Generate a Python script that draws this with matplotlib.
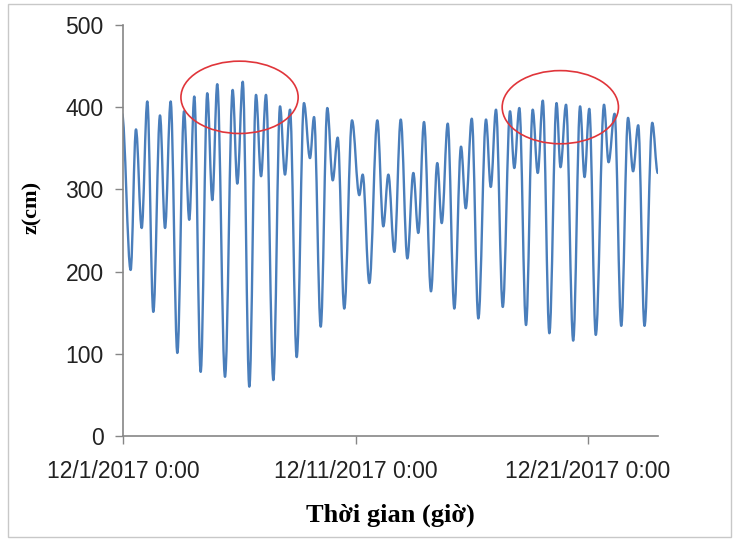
import matplotlib.pyplot as plt
from matplotlib.path import Path
from matplotlib.patches import PathPatch, Ellipse, Rectangle

# Tidal water level, extrema
# hours since 12/1/2017 0:00, first point is the high just before the window
hours = [-1.0, 7.9, 13.4, 19.3, 25.1, 31.3, 38.2, 43.4, 49.2, 56.1,
         63.0, 68.4, 73.6, 80.2, 87.0, 92.2, 97.3, 105.3, 113.2, 118.0,
         123.6, 130.4, 137.3, 142.5, 147.6, 155.2, 162.1, 167.2, 172.4, 179.3,
         186.8, 193.0, 197.2, 204.1, 210.9, 216.5, 221.6, 228.4, 236.4, 243.9,
         247.4, 254.3, 262.5, 268.7, 273.9, 280.1, 286.7, 293.5, 299.7, 304.8,
         310.7, 317.9, 324.4, 329.0, 335.2, 342.0, 348.9, 353.8, 360.0, 366.8,
         374.7, 379.6, 385.0, 392.0, 399.5, 403.9, 409.1, 416.0, 422.9, 428.1,
         433.3, 440.1, 447.5, 451.6, 457.3, 464.7, 471.8, 476.4, 481.3, 488.0,
         496.5, 501.2, 507.4, 514.3, 521.3, 526.5, 531.8, 538.3, 546.3, 552.0]
z_cm = [392, 202, 373, 253, 407, 151, 390, 253, 407, 101,
        395, 263, 413, 78, 417, 287, 428, 72, 421, 307,
        431, 60, 415, 316, 415, 68, 401, 318, 397, 96,
        405, 338, 388, 133, 399, 311, 363, 155, 384, 293,
        318, 186, 384, 255, 318, 224, 385, 216, 320, 247,
        382, 176, 332, 259, 380, 155, 352, 277, 386, 143,
        385, 303, 397, 157, 395, 326, 399, 135, 397, 320,
        408, 125, 405, 327, 403, 116, 401, 315, 398, 123,
        403, 333, 392, 134, 387, 322, 378, 134, 381, 320]

tick_hours = [0, 240, 480]
tick_labels = ["12/1/2017 0:00", "12/11/2017 0:00", "12/21/2017 0:00"]

# circled spring-tide groups (center hour, center z, width h, height cm)
circles = [(120.3, 412, 121, 88), (451.4, 400, 120, 89)]

fig = plt.figure(figsize=(7.4, 5.41), dpi=100)
ax = fig.add_axes([0.1662, 0.1941, 0.7227, 0.7597])

# smooth tide curve: cubic segments with flat tangents at each extremum
k = 0.36
verts = [(hours[0], z_cm[0])]
codes = [Path.MOVETO]
for i in range(1, len(hours)):
    dt = hours[i] - hours[i - 1]
    verts += [(hours[i - 1] + k * dt, z_cm[i - 1]),
              (hours[i] - k * dt, z_cm[i]),
              (hours[i], z_cm[i])]
    codes += [Path.CURVE4] * 3
ax.add_patch(PathPatch(Path(verts, codes), facecolor="none",
                       edgecolor="#4a7ebb", lw=1.7, capstyle="round",
                       joinstyle="round"))

for cx, cy, w, h in circles:
    ax.add_patch(Ellipse((cx, cy), w, h, facecolor="none",
                         edgecolor="#e0353a", lw=1.2))

ax.set_xlim(0, 552)
ax.set_ylim(0, 500)
ax.set_xticks(tick_hours)
ax.set_xticklabels(tick_labels)
ax.set_yticks(range(0, 501, 100))

for s in ["top", "right"]:
    ax.spines[s].set_visible(False)
for s in ["left", "bottom"]:
    ax.spines[s].set_color("#868686")
    ax.spines[s].set_linewidth(1.2)
ax.tick_params(axis="both", direction="out", length=5.5, width=1.0,
               color="#868686", labelcolor="#222222")
ax.tick_params(axis="y", pad=8.5)
ax.tick_params(axis="x", pad=12)
for lab in ax.get_xticklabels() + ax.get_yticklabels():
    lab.set_family("Liberation Sans")
    lab.set_fontsize(16.5)

ax.set_xlabel("Thời gian (giờ)", family="Liberation Serif",
              fontweight="bold", fontsize=19)
ax.xaxis.set_label_coords(0.5, -0.165)
ax.set_ylabel("z(cm)", family="Liberation Serif", fontweight="bold",
              fontsize=16)
ax.yaxis.set_label_coords(-0.151, 0.557)

fig.patches.append(Rectangle((8 / 740, 4 / 541), 723 / 740, 533 / 541,
                             transform=fig.transFigure, facecolor="none",
                             edgecolor="#c8c8c8", lw=1.0))

fig.savefig("out.png", dpi=100)
